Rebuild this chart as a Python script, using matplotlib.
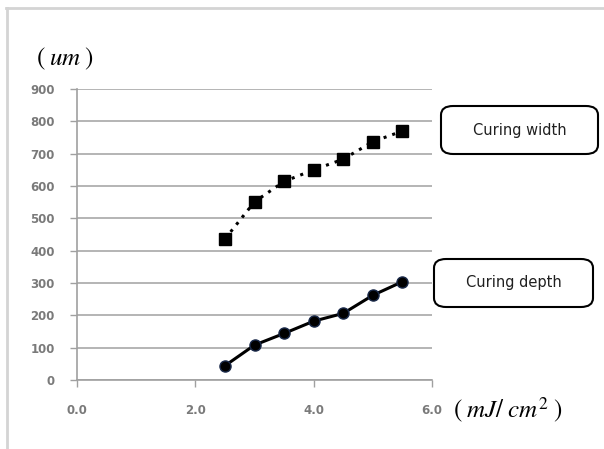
import matplotlib
matplotlib.use("Agg")
import matplotlib.pyplot as plt
from matplotlib.patches import FancyBboxPatch
from matplotlib.lines import Line2D

plt.rcParams["mathtext.fontset"] = "stix"

x_energy = [2.5, 3.0, 3.5, 4.0, 4.5, 5.0, 5.5]
curing_width = [436, 551, 614, 650, 683, 737, 770]
curing_depth = [44, 108, 144, 182, 206, 262, 304]
x_ticks = [0.0, 2.0, 4.0, 6.0]
y_ticks = list(range(0, 1000, 100))
width_label = "Curing width"
depth_label = "Curing depth"

W, H = 604, 449
fig = plt.figure(figsize=(W / 100, H / 100), dpi=100)
fig.patch.set_facecolor("white")

# outer frame lines (top and left)
fig.add_artist(Line2D([6 / W, 1], [1 - 8 / H, 1 - 8 / H], color="#d4d4d4", lw=2.0, transform=fig.transFigure))
fig.add_artist(Line2D([7 / W, 7 / W], [0, 1 - 8 / H], color="#d4d4d4", lw=2.0, transform=fig.transFigure))

ax = fig.add_axes([77 / W, 69 / H, (432 - 77) / W, (380 - 89) / H])
ax.set_xlim(0, 6)
ax.set_ylim(0, 900)
ax.set_xticks(x_ticks)
ax.set_xticklabels([f"{v:.1f}" for v in x_ticks])
ax.set_yticks(y_ticks)
for s in ["top", "right"]:
    ax.spines[s].set_visible(False)
for s in ["left", "bottom"]:
    ax.spines[s].set_color("#a0a0a0")
    ax.spines[s].set_linewidth(1.2)
ax.yaxis.grid(True, color="#a8a8a8", lw=1.2)
ax.set_axisbelow(True)
ax.tick_params(axis="both", colors="#a0a0a0", labelcolor="#7a7a7a", labelsize=8.5, length=5, width=1.0)
ax.tick_params(axis="x", pad=12)
ax.tick_params(axis="y", pad=11)
for lbl in ax.get_xticklabels() + ax.get_yticklabels():
    lbl.set_fontweight("semibold")

ax.plot(x_energy, curing_width, color="black", lw=2.2, ls=(0, (1, 2)), marker="s", ms=9, mfc="black", mec="black")
ax.plot(x_energy, curing_depth, color="black", lw=2.2, marker="o", ms=8, mfc="black", mec="#1a2a4a")

fig.text(36 / W, 1 - 59 / H, "$(\\;um\\;)$", fontsize=18, ha="left", va="center")
fig.text(453 / W, 1 - 410 / H, "$(\\;mJ/\\;cm^{2}\\;)$", fontsize=18, ha="left", va="center")

for (x0, y0, x1, y1, lab) in [(441, 106, 598, 154, width_label), (434, 259, 593, 307, depth_label)]:
    box = FancyBboxPatch((x0 / W, 1 - y1 / H), (x1 - x0) / W, (y1 - y0) / H,
                         boxstyle="round,pad=0,rounding_size=0.02", transform=fig.transFigure,
                         fc="white", ec="black", lw=1.5)
    fig.add_artist(box)
    fig.text((x0 + x1) / 2 / W, 1 - (y0 + y1) / 2 / H, lab, fontsize=10.5, ha="center", va="center", color="#202020")

fig.savefig("out.png", dpi=100)
